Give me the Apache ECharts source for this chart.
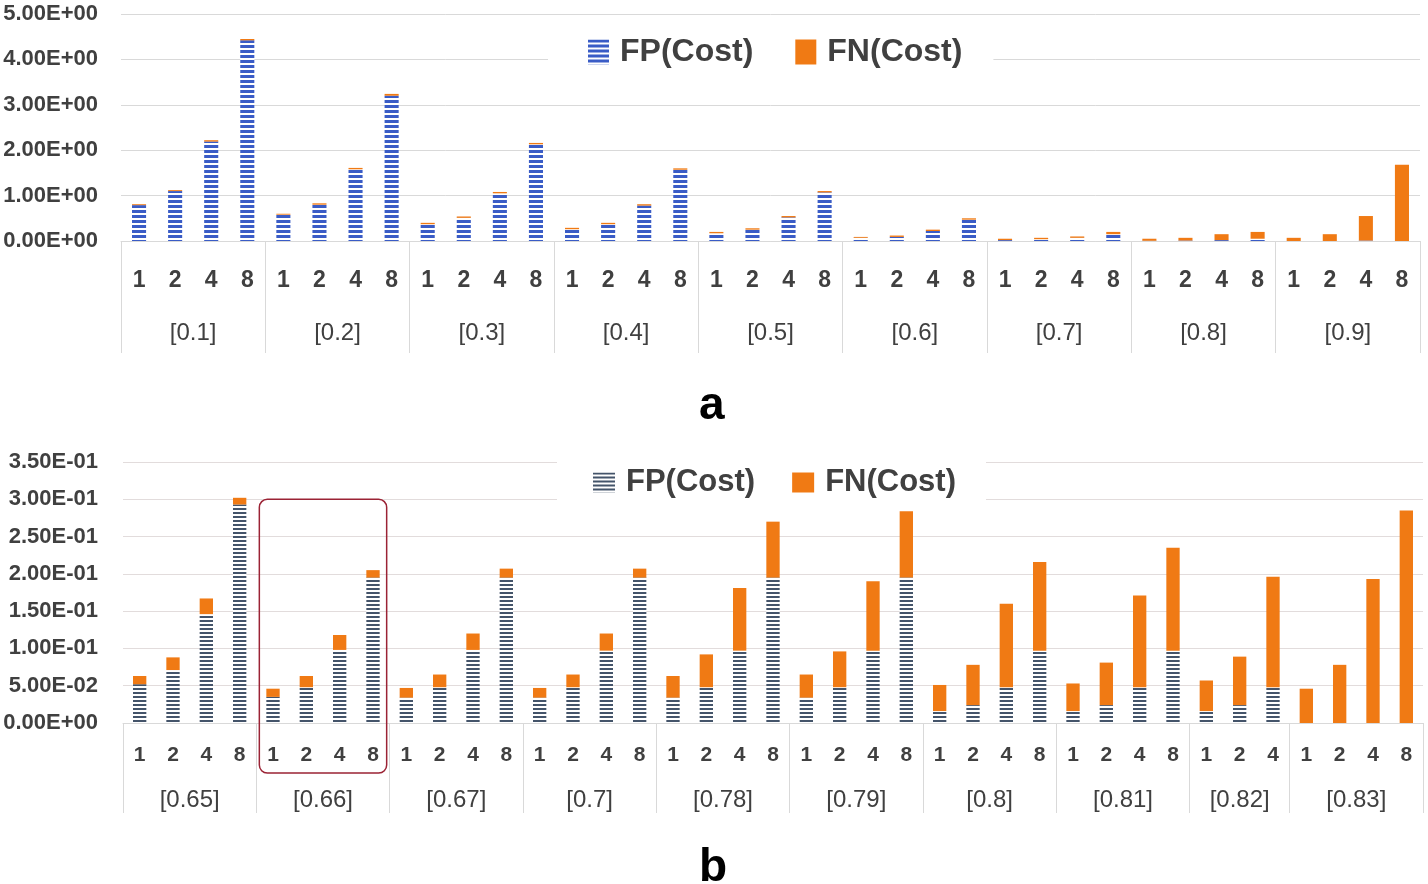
<!DOCTYPE html>
<html>
<head>
<meta charset="utf-8">
<script src="https://cdn.jsdelivr.net/npm/echarts@6/dist/echarts.min.js"></script>
<style>html,body{margin:0;padding:0;background:#fff;}#c{width:1428px;height:884px;}</style>
</head>
<body>
<div id="c"></div>
<script>
// ---------- data ----------
const groupsA = ['[0.1]','[0.2]','[0.3]','[0.4]','[0.5]','[0.6]','[0.7]','[0.8]','[0.9]'];
const binsA = [1, 2, 4, 8];
const fpA = [0.79,1.10,2.19,4.42, 0.58,0.80,1.58,3.20, 0.37,0.51,1.05,2.13, 0.26,0.37,0.78,1.57,
             0.17,0.25,0.52,1.07, 0.07,0.09,0.22,0.47, 0.02,0.04,0.07,0.15, 0.005,0.01,0.02,0.05,
             0,0,0.01,0];
const fnA = [0.02,0.02,0.03,0.03, 0.02,0.03,0.03,0.04, 0.03,0.03,0.03,0.03, 0.03,0.03,0.03,0.03,
             0.03,0.03,0.03,0.03, 0.02,0.03,0.03,0.03, 0.03,0.03,0.03,0.05, 0.045,0.06,0.13,0.15,
             0.07,0.15,0.54,1.68];

const groupsB = ['[0.65]','[0.66]','[0.67]','[0.7]','[0.78]','[0.79]','[0.8]','[0.81]','[0.82]','[0.83]'];
const binsB = [[1,2,4,8],[1,2,4,8],[1,2,4,8],[1,2,4,8],[1,2,4,8],[1,2,4,8],[1,2,4,8],[1,2,4,8],[1,2,4],[1,2,4,8]];
const fpB = [0.052,0.071,0.146,0.293, 0.035,0.048,0.098,0.195, 0.034,0.048,0.098,0.195, 0.034,0.048,0.097,0.195,
             0.034,0.048,0.097,0.195, 0.034,0.048,0.097,0.195, 0.016,0.024,0.048,0.097, 0.016,0.024,0.048,0.097,
             0.016,0.024,0.048, 0,0,0,0];
const fnB = [0.011,0.017,0.021,0.009, 0.011,0.015,0.020,0.010, 0.013,0.017,0.022,0.012, 0.013,0.017,0.023,0.012,
             0.029,0.044,0.084,0.075, 0.031,0.048,0.093,0.089, 0.035,0.054,0.112,0.119, 0.037,0.057,0.123,0.138,
             0.041,0.065,0.148, 0.046,0.078,0.193,0.285];

// ---------- derived ----------
const catsA = groupsA.flatMap(() => binsA.map(String));
const catsB = binsB.flat().map(String);
function bounds(sizes){ const b=[0]; sizes.forEach(s=>b.push(b[b.length-1]+s)); return b; }
const boundsA = bounds(groupsA.map(()=>binsA.length));
const boundsB = bounds(binsB.map(g=>g.length));
const centersA = groupsA.map((g,i)=>(boundsA[i]+boundsA[i+1])/2);
const centersB = groupsB.map((g,i)=>(boundsB[i]+boundsB[i+1])/2);

function sci(v){
  if (Math.abs(v) < 1e-12) return '0.00E+00';
  const s = v.toExponential(2).split('e');
  const n = parseInt(s[1],10);
  return s[0] + 'E' + (n<0?'-':'+') + String(Math.abs(n)).padStart(2,'0');
}
function stripe(color, band, gap){
  const c = document.createElement('canvas');
  c.width = 4; c.height = band+gap;
  const ctx = c.getContext('2d');
  ctx.fillStyle = '#ffffff'; ctx.fillRect(0,0,4,band+gap);
  ctx.fillStyle = color; ctx.fillRect(0,0,4,band);
  return c;
}
const ORANGE = '#F07A14';
const TXT = '#404040';
const GRID = '#D9D9D9';
const FONT = "'Liberation Sans', Arial, sans-serif";
const patA = {image: stripe('#3A5CC6', 3, 2), repeat: 'repeat'};
const patB = {image: stripe('#44546A', 2, 2), repeat: 'repeat'};

const chart = echarts.init(document.getElementById('c'), null, {renderer: 'canvas'});
const gridA = {left: 121, width: 1299, top: 14, height: 227, outerBoundsMode: 'none'};
const gridB = {left: 123, width: 1300, top: 462, height: 261, outerBoundsMode: 'none'};

const option = {
  animation: false,
  backgroundColor: '#fff',
  grid: [gridA, gridB],
  title: [
    {text: 'a', left: 694, top: 378, textStyle: {fontSize: 46, fontWeight: 'bold', color: '#000', fontFamily: FONT}},
    {text: 'b', left: 694, top: 840, textStyle: {fontSize: 46, fontWeight: 'bold', color: '#000', fontFamily: FONT}}
  ],
  legend: [
    {data: ['FP(Cost)','FN(Cost)'], left: 548, top: 30, icon: 'rect', itemWidth: 21, itemHeight: 25, itemGap: 42,
     backgroundColor: '#fff', padding: [6, 31, 6, 40], selectedMode: false,
     textStyle: {fontSize: 32, fontWeight: 'bold', color: TXT, fontFamily: FONT, padding: [0,0,0,6]}},
    {data: ['FP(Cost)#b','FN(Cost)#b'], left: 557, top: 455, icon: 'rect', itemWidth: 22, itemHeight: 20, itemGap: 37,
     backgroundColor: '#fff', padding: [12, 30, 4, 36], selectedMode: false,
     formatter: n => n.split('#')[0],
     textStyle: {fontSize: 31, fontWeight: 'bold', color: TXT, fontFamily: FONT, padding: [0,0,0,6]}}
  ],
  xAxis: [
    {type: 'category', gridIndex: 0, data: catsA, position: 'bottom',
     axisLine: {lineStyle: {color: GRID}}, axisTick: {show: false},
     axisLabel: {interval: 0, margin: 28, fontSize: 23, fontWeight: 'bold', color: TXT, fontFamily: FONT}},
    {type: 'value', gridIndex: 0, min: 0, max: catsA.length, position: 'bottom',
     axisLine: {show: false}, splitLine: {show: false},
     axisTick: {show: true, customValues: boundsA, length: 112, lineStyle: {color: GRID}},
     axisLabel: {customValues: centersA, margin: 80, fontSize: 24, color: TXT, fontFamily: FONT,
       formatter: v => groupsA[centersA.indexOf(v)] || ''}},
    {type: 'category', gridIndex: 1, data: catsB, position: 'bottom',
     axisLine: {lineStyle: {color: GRID}}, axisTick: {show: false},
     axisLabel: {interval: 0, margin: 22, fontSize: 21, fontWeight: 'bold', color: TXT, fontFamily: FONT}},
    {type: 'value', gridIndex: 1, min: 0, max: catsB.length, position: 'bottom',
     axisLine: {show: false}, splitLine: {show: false},
     axisTick: {show: true, customValues: boundsB, length: 90, lineStyle: {color: GRID}},
     axisLabel: {customValues: centersB, margin: 65, fontSize: 24, color: TXT, fontFamily: FONT,
       formatter: v => groupsB[centersB.indexOf(v)] || ''}}
  ],
  yAxis: [
    {type: 'value', gridIndex: 0, min: 0, max: 5, interval: 1,
     axisLine: {show: false}, axisTick: {show: false},
     splitLine: {lineStyle: {color: GRID}},
     axisLabel: {formatter: sci, margin: 23, fontSize: 22, fontWeight: 'bold', color: TXT, fontFamily: FONT}},
    {type: 'value', gridIndex: 1, min: 0, max: 0.35, interval: 0.05,
     axisLine: {show: false}, axisTick: {show: false},
     splitLine: {lineStyle: {color: '#E2DCDC'}},
     axisLabel: {formatter: sci, margin: 25, fontSize: 22, fontWeight: 'bold', color: TXT, fontFamily: FONT}}
  ],
  series: [
    {name: 'FP(Cost)', type: 'bar', stack: 'a', xAxisIndex: 0, yAxisIndex: 0, data: fpA, barWidth: '39%',
     itemStyle: {color: patA}},
    {name: 'FN(Cost)', type: 'bar', stack: 'a', xAxisIndex: 0, yAxisIndex: 0, data: fnA, barWidth: '39%',
     itemStyle: {color: ORANGE}},
    {name: 'FP(Cost)#b', type: 'bar', stack: 'b', xAxisIndex: 2, yAxisIndex: 1, data: fpB, barWidth: '40%',
     itemStyle: {color: patB}},
    {name: 'FN(Cost)#b', type: 'bar', stack: 'b', xAxisIndex: 2, yAxisIndex: 1, data: fnB, barWidth: '40%',
     itemStyle: {color: ORANGE}}
  ]
};
chart.setOption(option);

// highlight box around the [0.66] group in panel b
const gi = groupsB.indexOf('[0.66]');
const x0 = chart.convertToPixel({xAxisIndex: 3}, boundsB[gi]) + 3;
const x1 = chart.convertToPixel({xAxisIndex: 3}, boundsB[gi+1]) - 3;
const yTop = chart.convertToPixel({yAxisIndex: 1}, 0.3);
const yBase = chart.convertToPixel({yAxisIndex: 1}, 0);
chart.setOption({graphic: [{type: 'rect', z: 100, silent: true,
  shape: {x: x0, y: yTop, width: x1 - x0, height: yBase + 50 - yTop, r: 8},
  style: {fill: 'none', stroke: '#9B2335', lineWidth: 1.5}}]});
</script>
</body>
</html>
